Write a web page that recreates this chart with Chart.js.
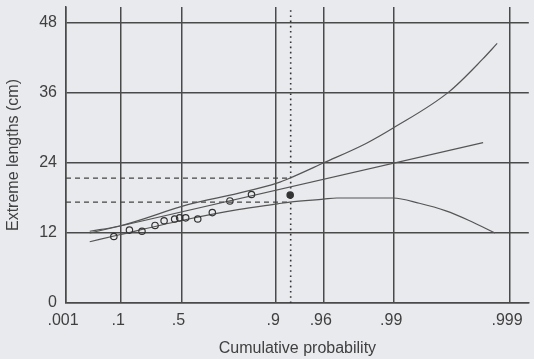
<!DOCTYPE html>
<html><head><meta charset="utf-8">
<script src="https://cdn.jsdelivr.net/npm/chart.js@4"></script>
<style>html,body{margin:0;padding:0;background:#e9eaed;}#wrap{width:534px;height:359px;}</style>
</head><body><div id="wrap"><canvas id="c" width="534" height="359"></canvas></div>
<script>
// Tick labels (cumulative probability) and value ticks
const probabilityTicks = [0.001, 0.1, 0.5, 0.9, 0.96, 0.99, 0.999];
const probabilityLabels = ['.001', '.1', '.5', '.9', '.96', '.99', '.999'];
const lengthTicks = [0, 12, 24, 36, 48];

// Observed extremes: x in Gumbel reduced variate, y in cm
const obsVariate = [-0.98, -0.67, -0.42, -0.16, 0.02, 0.23, 0.33, 0.45, 0.69, 0.98, 1.33, 1.76, 2.53];
const obsLength  = [11.4, 12.5, 12.3, 13.3, 14.1, 14.4, 14.6, 14.6, 14.4, 15.5, 17.5, 18.6, 18.5];

// Fitted line
const fitVariate = [-1.46, 6.37];
const fitLength  = [12.0, 27.5];

// Upper confidence curve
const upperVariate = [-1.46, -0.87, 0.51, 1.49, 2.28, 2.52, 3.19, 4.05, 4.58, 5.69, 6.36, 6.65];
const upperLength  = [12.3, 13.2, 16.9, 18.8, 20.6, 21.4, 24.0, 27.4, 30.0, 36.2, 41.8, 44.5];

// Lower confidence curve
const lowerVariate = [-1.46, -0.87, 0.51, 1.49, 2.28, 2.52, 3.19, 3.46, 4.58, 5.10, 5.63, 6.08, 6.61];
const lowerLength  = [10.5, 11.7, 14.4, 16.0, 17.0, 17.3, 17.8, 18.0, 18.0, 17.1, 15.8, 14.2, 12.0];

// Reference marks
const markVariate = 2.54;
const markLevels = [21.4, 17.3];
const yMax = 50.75;
const xMaxVariate = 7.28;

const gumbel = p => -Math.log(-Math.log(p));
const xMin = gumbel(probabilityTicks[0]);
const pts = (xs, ys) => xs.map((x, i) => ({x: x, y: ys[i]}));

const ink = '#404040';
const gridInk = '#4a4a4a';
const lineInk = '#555555';

const bg = {
  id: 'bg',
  beforeDraw(chart) {
    const c = chart.ctx;
    c.save(); c.fillStyle = '#e9eaed'; c.fillRect(0, 0, chart.width, chart.height); c.restore();
  }
};

const datasets = [
  {data: pts(obsVariate, obsLength), showLine: false, pointRadius: 3.2, pointBorderWidth: 1.2,
   pointBorderColor: '#333', pointBackgroundColor: obsVariate.map((v, i) => i === obsVariate.length - 1 ? '#333' : 'rgba(0,0,0,0)')},
  {data: pts(fitVariate, fitLength), showLine: true, pointRadius: 0, borderColor: lineInk, borderWidth: 1.2},
  {data: pts(upperVariate, upperLength), showLine: true, pointRadius: 0, borderColor: lineInk, borderWidth: 1.2, cubicInterpolationMode: 'monotone'},
  {data: pts(lowerVariate, lowerLength), showLine: true, pointRadius: 0, borderColor: lineInk, borderWidth: 1.2, cubicInterpolationMode: 'monotone'},
  {data: [{x: markVariate, y: 0}, {x: markVariate, y: yMax}], showLine: true, pointRadius: 0, borderColor: '#333', borderWidth: 1.6, borderDash: [1.6, 3.6]},
];
markLevels.forEach(v => datasets.push({data: [{x: xMin, y: v}, {x: markVariate, y: v}], showLine: true, pointRadius: 0, borderColor: '#444', borderWidth: 1.2, borderDash: [5, 4]}));

new Chart(document.getElementById('c'), {
  type: 'scatter',
  data: {datasets: datasets},
  plugins: [bg],
  options: {
    responsive: false, animation: false, devicePixelRatio: 1,
    layout: {padding: {top: 7, right: 0, bottom: 0, left: 0}},
    plugins: {legend: {display: false}, tooltip: {enabled: false}},
    scales: {
      x: {
        type: 'linear', position: 'bottom', min: xMin, max: xMaxVariate,
        afterBuildTicks: s => { s.ticks = probabilityTicks.map(p => ({value: gumbel(p)})); },
        afterFit: s => { s.height = 56; s.paddingLeft = 0; s.paddingRight = 0; },
        grid: {color: gridInk, lineWidth: 1.5, drawTicks: false},
        border: {display: true, color: gridInk, width: 1.5},
        ticks: {callback: (v, i) => probabilityLabels[i], font: {family: 'Liberation Sans', size: 16}, color: ink,
                padding: 8, maxRotation: 0, autoSkip: false, labelOffset: -3},
        title: {display: true, text: 'Cumulative probability', font: {family: 'Liberation Sans', size: 16}, color: ink, padding: {top: 16, bottom: 1}}
      },
      y: {
        type: 'linear', min: 0, max: yMax,
        afterBuildTicks: s => { s.ticks = lengthTicks.map(v => ({value: v})); },
        afterFit: s => { s.width = 66; s.paddingTop = 0; s.paddingBottom = 0; },
        grid: {color: gridInk, lineWidth: 1.5, drawTicks: false},
        border: {display: true, color: gridInk, width: 1.5},
        ticks: {font: {family: 'Liberation Sans', size: 16}, color: ink, padding: 9, crossAlign: 'near'},
        title: {display: true, text: 'Extreme lengths (cm)', font: {family: 'Liberation Sans', size: 16}, color: ink, padding: {top: 4, bottom: 0}}
      }
    }
  }
});
</script></body></html>
